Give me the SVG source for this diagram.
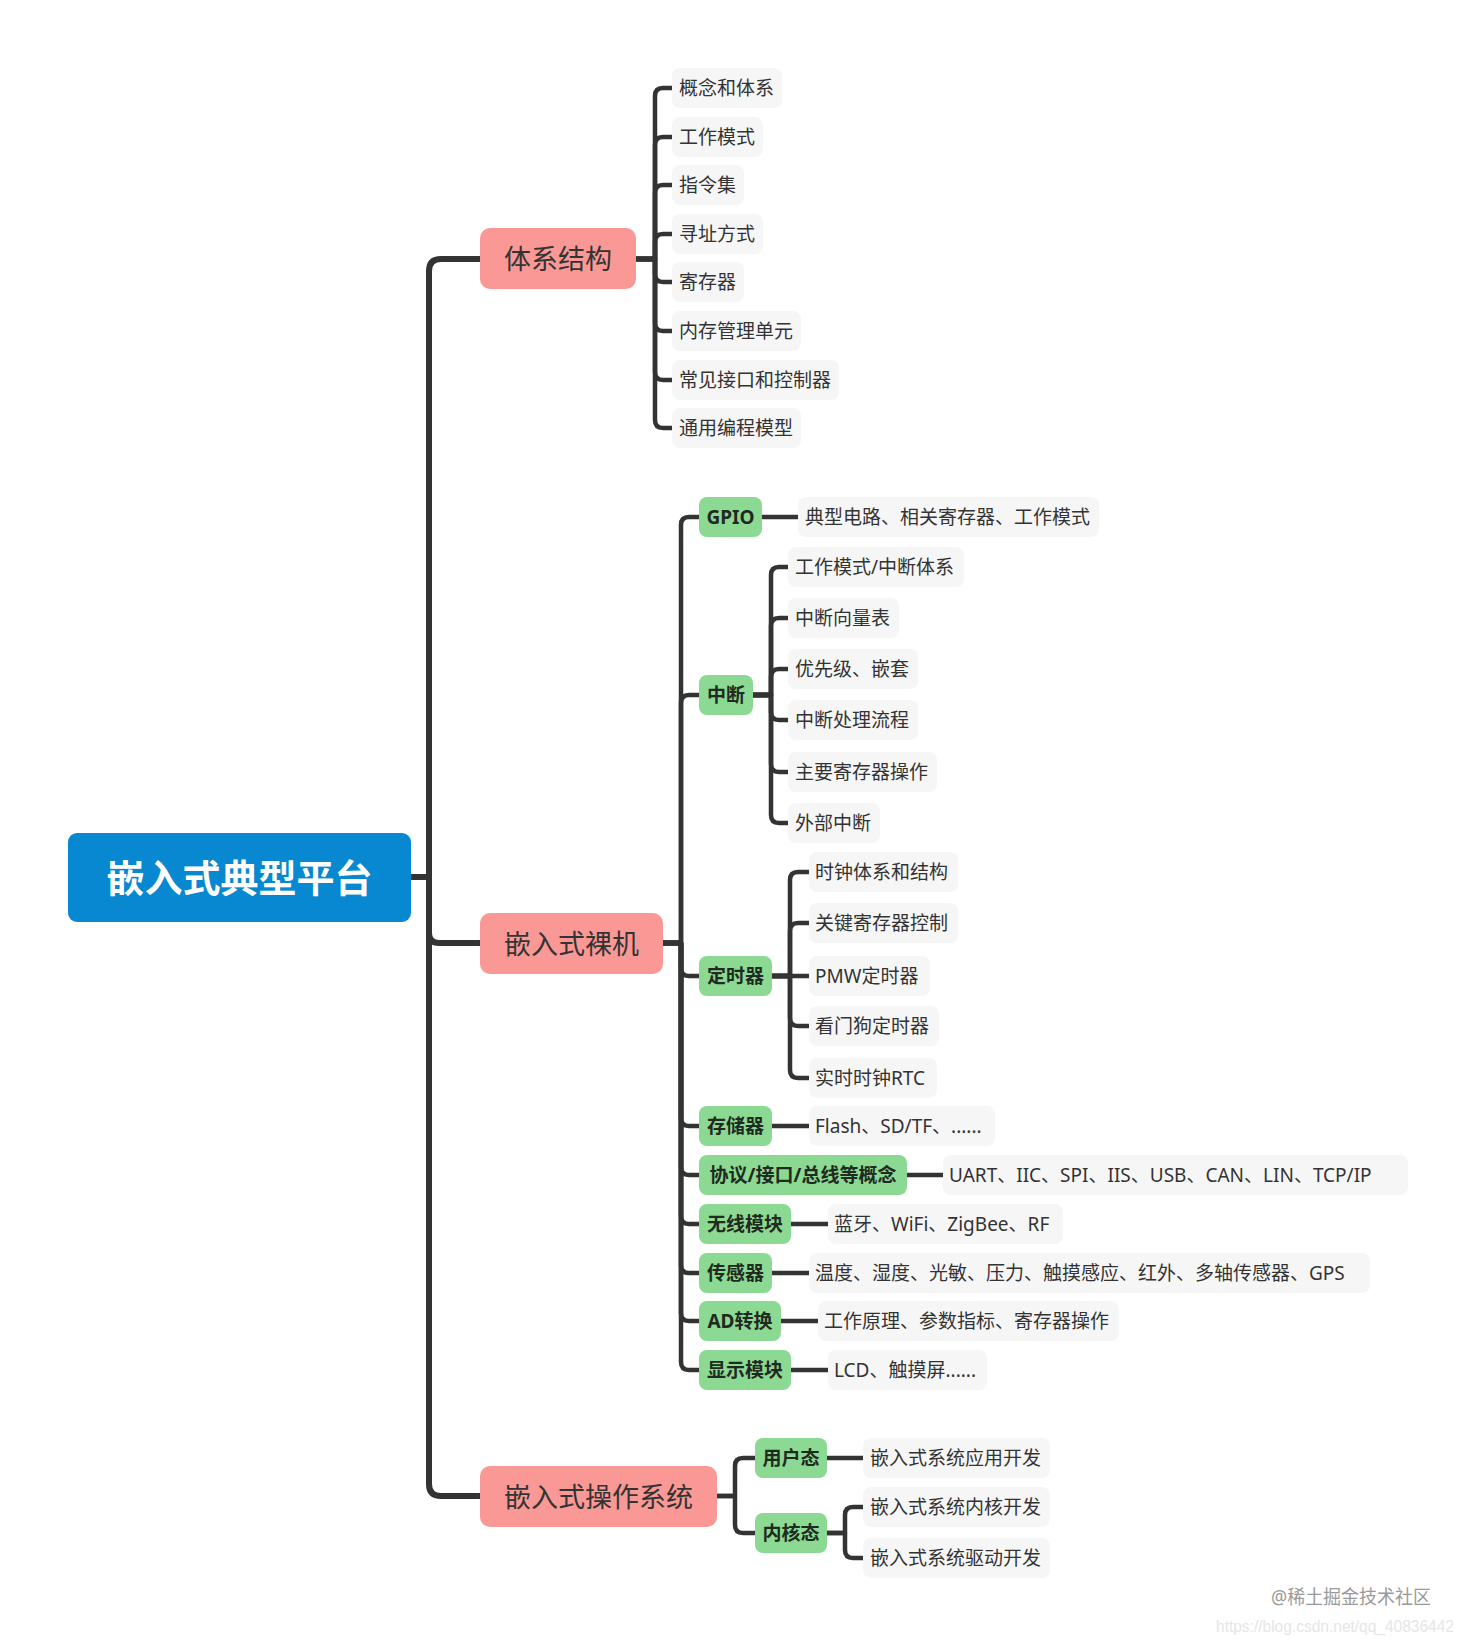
<svg xmlns="http://www.w3.org/2000/svg" width="1471" height="1646" viewBox="0 0 1471 1646">
<style>
text{font-family:"Noto Sans","Noto Sans CJK SC",sans-serif;dominant-baseline:central}
.root rect{fill:#0788d0}
.root text{fill:#fff;font-size:38px;font-weight:700;text-anchor:middle}
.main rect{fill:#fa9896}
.main text{fill:#333;font-size:27px;text-anchor:middle}
.sub rect{fill:#8bd992}
.sub text{fill:#1f2a20;font-size:19px;font-weight:700;text-anchor:middle}
.leaf rect{fill:#f6f6f6}
.leaf text{fill:#333;font-size:19px}
.c1{fill:none;stroke:#333;stroke-width:6;stroke-linecap:round;stroke-linejoin:round}
.c2{fill:none;stroke:#333;stroke-width:4.5;stroke-linejoin:round}
.wm{fill:#9a9a9a;font-size:19px}
.wm2{fill:#e6e6e6;font-family:"Liberation Sans",sans-serif;font-size:16px}
</style>
<rect width="1471" height="1646" fill="#fff"/>
<g id="connectors">
<path class="c1" d="M411,877 H429 V271 Q429,259 441,259 H480"/>
<path class="c1" d="M411,877 H429 V933 Q429,943 439,943 H480"/>
<path class="c1" d="M411,877 H429 V1484 Q429,1496 441,1496 H480"/>
<path class="c2" d="M636,259 H655 V96 Q655,88 663,88 H672"/>
<path class="c2" d="M636,259 H655 V145 Q655,137 663,137 H672"/>
<path class="c2" d="M636,259 H655 V193 Q655,185 663,185 H672"/>
<path class="c2" d="M636,259 H655 V242 Q655,234 663,234 H672"/>
<path class="c2" d="M636,259 H655 V274 Q655,282 663,282 H672"/>
<path class="c2" d="M636,259 H655 V323 Q655,331 663,331 H672"/>
<path class="c2" d="M636,259 H655 V372 Q655,380 663,380 H672"/>
<path class="c2" d="M636,259 H655 V420 Q655,428 663,428 H672"/>
<path class="c2" d="M663,943 H681 V525 Q681,517 689,517 H699"/>
<path class="c2" d="M663,943 H681 V703 Q681,695 689,695 H699"/>
<path class="c2" d="M663,943 H681 V968 Q681,976 689,976 H699"/>
<path class="c2" d="M663,943 H681 V1118 Q681,1126 689,1126 H699"/>
<path class="c2" d="M663,943 H681 V1167 Q681,1175 689,1175 H699"/>
<path class="c2" d="M663,943 H681 V1216 Q681,1224 689,1224 H699"/>
<path class="c2" d="M663,943 H681 V1265 Q681,1273 689,1273 H699"/>
<path class="c2" d="M663,943 H681 V1313 Q681,1321 689,1321 H699"/>
<path class="c2" d="M663,943 H681 V1362 Q681,1370 689,1370 H699"/>
<path class="c2" d="M762,517 H798"/>
<path class="c2" d="M752,695 H771 V575 Q771,567 779,567 H788"/>
<path class="c2" d="M752,695 H771 V626 Q771,618 779,618 H788"/>
<path class="c2" d="M752,695 H771 V677 Q771,669 779,669 H788"/>
<path class="c2" d="M752,695 H771 V712 Q771,720 779,720 H788"/>
<path class="c2" d="M752,695 H771 V764 Q771,772 779,772 H788"/>
<path class="c2" d="M752,695 H771 V815 Q771,823 779,823 H788"/>
<path class="c2" d="M772,976 H790 V880 Q790,872 798,872 H809"/>
<path class="c2" d="M772,976 H790 V931 Q790,923 798,923 H809"/>
<path class="c2" d="M772,976 H809"/>
<path class="c2" d="M772,976 H790 V1018 Q790,1026 798,1026 H809"/>
<path class="c2" d="M772,976 H790 V1070 Q790,1078 798,1078 H809"/>
<path class="c2" d="M772,1126 H809"/>
<path class="c2" d="M907,1175 H943"/>
<path class="c2" d="M791,1224 H828"/>
<path class="c2" d="M772,1273 H809"/>
<path class="c2" d="M781,1321 H818"/>
<path class="c2" d="M791,1370 H828"/>
<path class="c2" d="M717,1496 H735 V1466 Q735,1458 743,1458 H755"/>
<path class="c2" d="M717,1496 H735 V1525 Q735,1533 743,1533 H755"/>
<path class="c2" d="M827,1458 H863"/>
<path class="c2" d="M827,1533 H845 V1515 Q845,1507 853,1507 H863"/>
<path class="c2" d="M827,1533 H845 V1550 Q845,1558 853,1558 H863"/>
</g>
<g id="n-root" class="root"><rect x="68" y="833" width="343" height="89" rx="9"/><text x="239.5" y="877">嵌入式典型平台</text></g>
<g id="n-arch" class="main"><rect x="480" y="228" width="156" height="61" rx="10"/><text x="558" y="258.5">体系结构</text></g>
<g id="n-bare" class="main"><rect x="480" y="913" width="183" height="61" rx="10"/><text x="571.5" y="943.5">嵌入式裸机</text></g>
<g id="n-os" class="main"><rect x="480" y="1466" width="237" height="61" rx="10"/><text x="598.5" y="1496.5">嵌入式操作系统</text></g>
<g id="n-a1" class="leaf"><rect x="672" y="68" width="110" height="40" rx="8"/><text x="679" y="88">概念和体系</text></g>
<g id="n-a2" class="leaf"><rect x="672" y="117" width="91" height="40" rx="8"/><text x="679" y="137">工作模式</text></g>
<g id="n-a3" class="leaf"><rect x="672" y="165" width="72" height="40" rx="8"/><text x="679" y="185">指令集</text></g>
<g id="n-a4" class="leaf"><rect x="672" y="214" width="91" height="40" rx="8"/><text x="679" y="234">寻址方式</text></g>
<g id="n-a5" class="leaf"><rect x="672" y="262" width="72" height="40" rx="8"/><text x="679" y="282">寄存器</text></g>
<g id="n-a6" class="leaf"><rect x="672" y="311" width="129" height="40" rx="8"/><text x="679" y="331">内存管理单元</text></g>
<g id="n-a7" class="leaf"><rect x="672" y="360" width="167" height="40" rx="8"/><text x="679" y="380">常见接口和控制器</text></g>
<g id="n-a8" class="leaf"><rect x="672" y="408" width="129" height="40" rx="8"/><text x="679" y="428">通用编程模型</text></g>
<g id="n-gpio" class="sub"><rect x="699" y="497" width="63" height="40" rx="8"/><text x="730.5" y="517">GPIO</text></g>
<g id="n-gpio-d" class="leaf"><rect x="798" y="497" width="301" height="40" rx="8"/><text x="805" y="517">典型电路、相关寄存器、工作模式</text></g>
<g id="n-int" class="sub"><rect x="699" y="675" width="54" height="40" rx="8"/><text x="726" y="695">中断</text></g>
<g id="n-i1" class="leaf"><rect x="788" y="547" width="176" height="40" rx="8"/><text x="795" y="567">工作模式/中断体系</text></g>
<g id="n-i2" class="leaf"><rect x="788" y="598" width="111" height="40" rx="8"/><text x="795" y="618">中断向量表</text></g>
<g id="n-i3" class="leaf"><rect x="788" y="649" width="130" height="40" rx="8"/><text x="795" y="669">优先级、嵌套</text></g>
<g id="n-i4" class="leaf"><rect x="788" y="700" width="130" height="40" rx="8"/><text x="795" y="720">中断处理流程</text></g>
<g id="n-i5" class="leaf"><rect x="788" y="752" width="149" height="40" rx="8"/><text x="795" y="772">主要寄存器操作</text></g>
<g id="n-i6" class="leaf"><rect x="788" y="803" width="92" height="40" rx="8"/><text x="795" y="823">外部中断</text></g>
<g id="n-tim" class="sub"><rect x="699" y="956" width="73" height="40" rx="8"/><text x="735.5" y="976">定时器</text></g>
<g id="n-t1" class="leaf"><rect x="809" y="852" width="149" height="40" rx="8"/><text x="815" y="872">时钟体系和结构</text></g>
<g id="n-t2" class="leaf"><rect x="809" y="903" width="149" height="40" rx="8"/><text x="815" y="923">关键寄存器控制</text></g>
<g id="n-t3" class="leaf"><rect x="809" y="956" width="121" height="40" rx="8"/><text x="815" y="976">PMW定时器</text></g>
<g id="n-t4" class="leaf"><rect x="809" y="1006" width="130" height="40" rx="8"/><text x="815" y="1026">看门狗定时器</text></g>
<g id="n-t5" class="leaf"><rect x="809" y="1058" width="128" height="40" rx="8"/><text x="815" y="1078">实时时钟RTC</text></g>
<g id="n-mem" class="sub"><rect x="699" y="1106" width="73" height="40" rx="8"/><text x="735.5" y="1126">存储器</text></g>
<g id="n-mem-d" class="leaf"><rect x="809" y="1106" width="186" height="40" rx="8"/><text x="815" y="1126">Flash、SD/TF、......</text></g>
<g id="n-bus" class="sub"><rect x="699" y="1155" width="208" height="40" rx="8"/><text x="803" y="1175">协议/接口/总线等概念</text></g>
<g id="n-bus-d" class="leaf"><rect x="943" y="1155" width="465" height="40" rx="8"/><text x="949" y="1175">UART、IIC、SPI、IIS、USB、CAN、LIN、TCP/IP</text></g>
<g id="n-wl" class="sub"><rect x="699" y="1204" width="92" height="40" rx="8"/><text x="745" y="1224">无线模块</text></g>
<g id="n-wl-d" class="leaf"><rect x="828" y="1204" width="235" height="40" rx="8"/><text x="834" y="1224">蓝牙、WiFi、ZigBee、RF</text></g>
<g id="n-sen" class="sub"><rect x="699" y="1253" width="73" height="40" rx="8"/><text x="735.5" y="1273">传感器</text></g>
<g id="n-sen-d" class="leaf"><rect x="809" y="1253" width="561" height="40" rx="8"/><text x="815" y="1273">温度、湿度、光敏、压力、触摸感应、红外、多轴传感器、GPS</text></g>
<g id="n-ad" class="sub"><rect x="699" y="1301" width="82" height="40" rx="8"/><text x="740" y="1321">AD转换</text></g>
<g id="n-ad-d" class="leaf"><rect x="818" y="1301" width="301" height="40" rx="8"/><text x="824" y="1321">工作原理、参数指标、寄存器操作</text></g>
<g id="n-disp" class="sub"><rect x="699" y="1350" width="92" height="40" rx="8"/><text x="745" y="1370">显示模块</text></g>
<g id="n-disp-d" class="leaf"><rect x="828" y="1350" width="159" height="40" rx="8"/><text x="834" y="1370">LCD、触摸屏......</text></g>
<g id="n-user" class="sub"><rect x="755" y="1438" width="72" height="40" rx="8"/><text x="791" y="1458">用户态</text></g>
<g id="n-user-d" class="leaf"><rect x="863" y="1438" width="187" height="40" rx="8"/><text x="870" y="1458">嵌入式系统应用开发</text></g>
<g id="n-kern" class="sub"><rect x="755" y="1513" width="72" height="40" rx="8"/><text x="791" y="1533">内核态</text></g>
<g id="n-k1" class="leaf"><rect x="863" y="1487" width="187" height="40" rx="8"/><text x="870" y="1507">嵌入式系统内核开发</text></g>
<g id="n-k2" class="leaf"><rect x="863" y="1538" width="187" height="40" rx="8"/><text x="870" y="1558">嵌入式系统驱动开发</text></g>
<text class="wm" x="1271" y="1597" textLength="160" lengthAdjust="spacingAndGlyphs">@稀土掘金技术社区</text>
<text class="wm2" x="1216" y="1626" textLength="238" lengthAdjust="spacingAndGlyphs">https://blog.csdn.net/qq_40836442</text>
</svg>
